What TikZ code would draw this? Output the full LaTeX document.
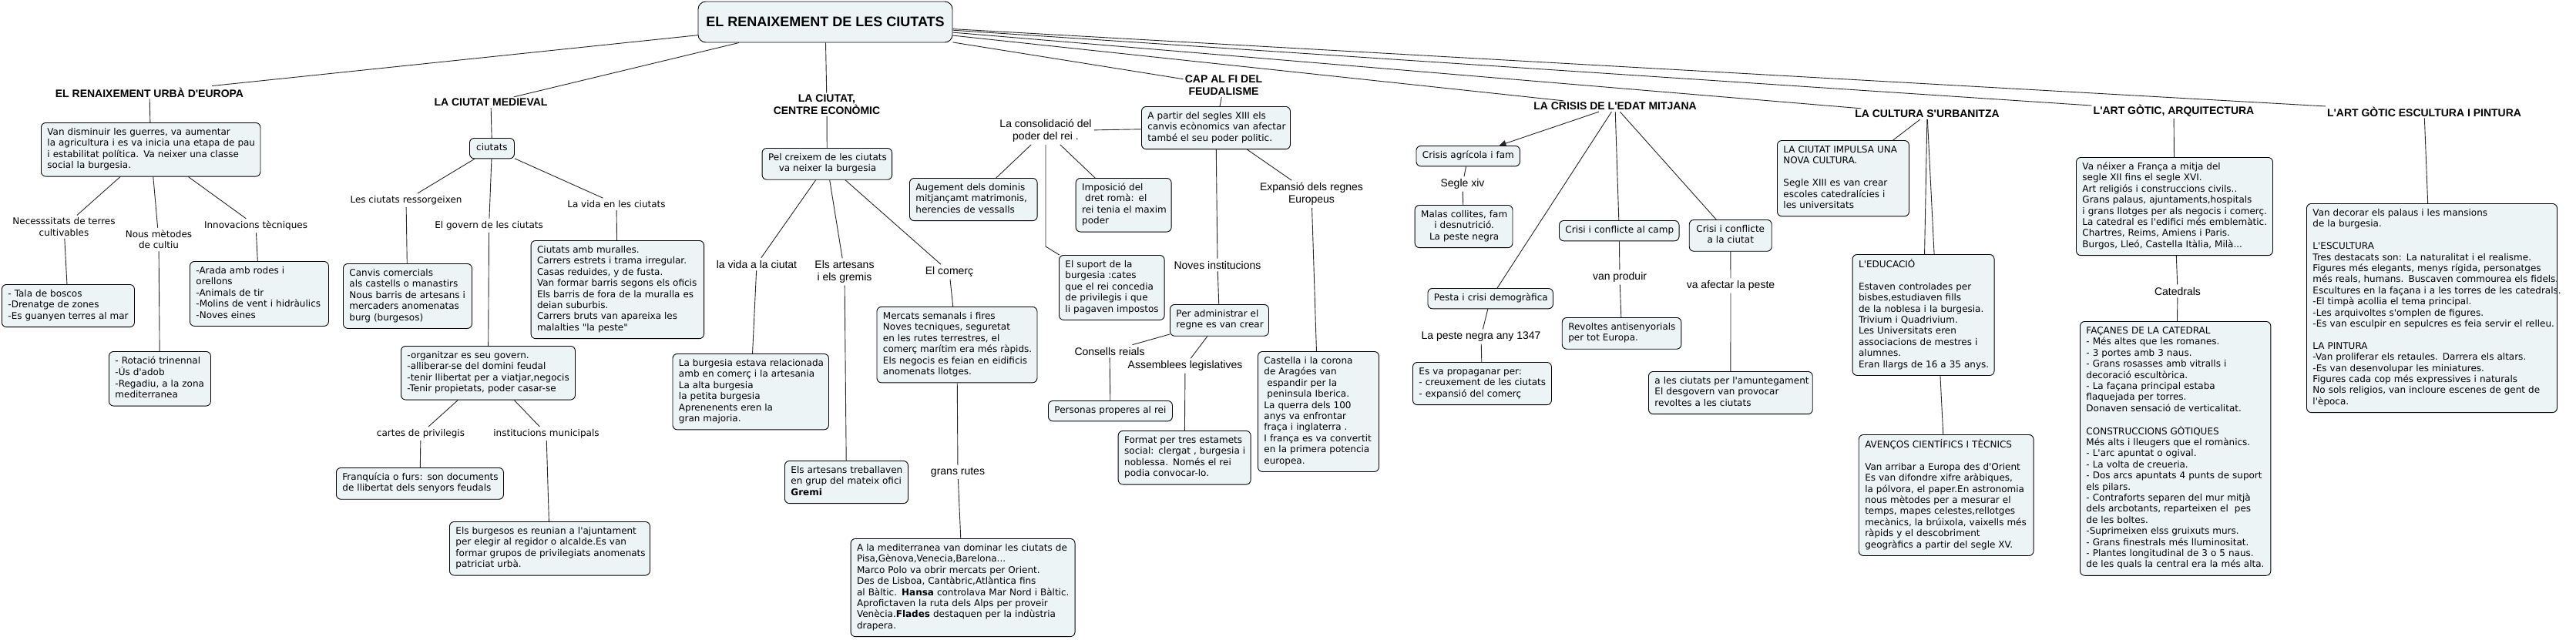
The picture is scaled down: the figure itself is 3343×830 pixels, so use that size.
\documentclass[tikz,border=0pt]{standalone}
\usepackage{fontspec}
\setmainfont{DejaVu Sans}[Ligatures=TeXOff]
\newfontfamily\arial{Liberation Sans}[Ligatures=TeXOff]
\usetikzlibrary{arrows.meta}
\definecolor{cfill}{RGB}{237,244,246}
\pgfdeclarelayer{back}
\pgfdeclarelayer{bg}
\pgfsetlayers{back,bg,main}
\newcommand\vf{\fontsize{12}{14.4}\selectfont}
\newcommand\af{\arial\fontsize{14}{16}\selectfont}
\newcommand\LL[1]{\begin{tabular}{@{}l@{}}#1\end{tabular}}
\newcommand\CC[1]{\begin{tabular}{@{}c@{}}#1\end{tabular}}
\tikzset{
 cbase/.style={draw=black, line width=0.9pt, rounded corners=6pt, fill=cfill, anchor=north west, inner xsep=8pt, inner ysep=6pt, font=\vf},
 lbox/.style={cbase, align=left},
 cbox/.style={cbase, align=center},
 bw/.style={text width={#1-16}},
 head/.style={font=\af\bfseries, align=center, inner sep=2pt},
 alab/.style={font=\af, align=center, inner sep=3pt},
 vlab/.style={font=\vf, align=center, inner sep=3pt},
 conn/.style={draw=black!85, line width=0.9pt},
 rootbox/.style={draw=black, line width=0.9pt, rounded corners=10pt, fill=cfill, minimum width=330pt, minimum height=53pt, font=\arial\bfseries\fontsize{18}{22}\selectfont},
}
\begin{document}
\begin{tikzpicture}[x=1pt,y=-1pt]
\begin{pgfonlayer}{back}
\fill[white] (0,0) rectangle (3343,830);
\end{pgfonlayer}
\useasboundingbox (0,0) rectangle (3343,830);

% root
\node[rootbox] (root) at (1071,28.5) {EL RENAIXEMENT DE LES CIUTATS};

% headings
\node[head] (urba) at (194,120) {EL RENAIXEMENT URBÀ D'EUROPA};
\node[head] (medieval) at (637,133) {LA CIUTAT MEDIEVAL};
\node[head] (centre) at (1073,136) {LA CIUTAT,\\CENTRE ECONÒMIC};
\node[head] (capfi) at (1588,111) {CAP AL FI DEL\\FEUDALISME};
\node[head] (crisis) at (2096,138) {LA CRISIS DE L'EDAT MITJANA};
\node[head] (cultura) at (2501,148) {LA CULTURA S'URBANITZA};
\node[head] (arq) at (2821,144) {L'ART GÒTIC, ARQUITECTURA};
\node[head] (escult) at (3146,145) {L'ART GÒTIC ESCULTURA I PINTURA};

% ---- El renaixement urba
\node[lbox,bw=284.5] (urbbox) at (53,159) {\LL{Van disminuir les guerres, va aumentar\\la agricultura i es va inicia una etapa de pau\\i estabilitat política. Va neixer una classe\\social la burgesia.}};
\node[vlab] (necess) at (83,294.5) {Necesssitats de terres\\cultivables};
\node[vlab] (nous) at (206,311) {Nous mètodes\\de cultiu};
\node[vlab] (innov) at (332,293) {Innovacions tècniques};
\node[lbox,bw=172] (tala) at (2,369) {\LL{- Tala de boscos\\-Drenatge de zones\\-Es guanyen terres al mar}};
\node[lbox,bw=132] (rotacio) at (141,456) {\LL{- Rotació trinennal\\-Ús d'adob\\-Regadiu, a la zona\\mediterranea}};
\node[lbox,bw=180] (arada) at (246,339) {\LL{-Arada amb rodes i\\orellons\\-Animals de tir\\-Molins de vent i hidràulics\\-Noves eines}};

% ---- La ciutat medieval
\node[cbox,bw=58] (ciutats) at (609,179) {\CC{ciutats}};
\node[vlab] (ressorg) at (527,260) {Les ciutats ressorgeixen};
\node[vlab] (govern) at (634.6,293) {El govern de les ciutats};
\node[vlab] (vidaen) at (800,265) {La vida en les ciutats};
\node[lbox,bw=167] (canvis) at (445,342) {\LL{Canvis comercials\\als castells o manastirs\\Nous barris de artesans i\\mercaders anomenatas\\burg (burgesos)}};
\node[lbox,bw=226] (organ) at (520,449) {\LL{-organitzar es seu govern.\\-alliberar-se del domini feudal\\-tenir llibertat per a viatjar,negocis\\-Tenir propietats, poder casar-se}};
\node[lbox,bw=224.5] (muralles) at (688.6,312) {\LL{Ciutats amb muralles.\\Carrers estrets i trama irregular.\\Casas reduides, y de fusta.\\Van formar barris segons els oficis\\Els barris de fora de la muralla es\\deian suburbis.\\Carrers bruts van apareixa les\\malalties "la peste"}};
\node[vlab] (cartes) at (546,563) {cartes de privilegis};
\node[vlab] (instit) at (709,563) {institucions municipals};
\node[lbox,bw=217] (franq) at (436,607) {\LL{Franquícia o furs: son documents\\de llibertat dels senyors feudals}};
\node[lbox,bw=260] (burgesos) at (583,677) {\LL{Els burgesos es reunian a l'ajuntament\\per elegir al regidor o alcalde.Es van\\formar grupos de privilegiats anomenats\\patriciat urbà.}};

% ---- La ciutat centre economic
\node[cbox,bw=168.5] (pel) at (988.6,192) {\CC{Pel creixem de les ciutats\\va neixer la burgesia}};
\node[alab] (vidaciutat) at (982,343) {la vida a la ciutat};
\node[alab] (artesans) at (1096,353) {Els artesans\\i els gremis};
\node[alab] (comerc) at (1232,353) {El comerç};
\node[lbox,bw=202.5] (burgesia) at (872.5,459) {\LL{La burgesia estava relacionada\\amb en comerç i la artesania\\La alta burgesia\\la petita burgesia\\Aprenenents eren la\\gran majoria.}};
\node[lbox,bw=160] (gremi) at (1018,598) {\LL{Els artesans treballaven\\en grup del mateix ofici\\\textbf{Gremi}}};
\node[lbox,bw=208] (mercats) at (1137.5,398) {\LL{Mercats semanals i fires\\Noves tecniques, seguretat\\en les rutes terrestres, el\\comerç marítim era més ràpids.\\Els negocis es feian en eidificis\\anomenats llotges.}};
\node[alab] (rutes) at (1243,613) {grans rutes};
\node[lbox,bw=291] (medit) at (1103.6,699) {\LL{A la mediterranea van dominar les ciutats de\\Pisa,Gènova,Venecia,Barelona...\\Marco Polo va obrir mercats per Orient.\\Des de Lisboa, Cantàbric,Atlàntica fins\\al Bàltic. \textbf{Hansa} controlava Mar Nord i Bàltic.\\Aprofictaven la ruta dels Alps per proveir\\Venècia.\textbf{Flades} destaquen per la indùstria\\drapera.}};

% ---- Cap al fi del feudalisme
\node[lbox,bw=193] (apartir) at (1481,138) {\LL{A partir del segles XIII els\\canvis ecònomics van afectar\\també el seu poder politic.}};
\node[alab] (consolid) at (1357,170) {La consolidació del\\poder del rei .};
\node[lbox,bw=165.7] (augement) at (1180,231) {\LL{Augement dels dominis\\mitjançamt matrimonis,\\herencies de vessalls}};
\node[lbox,bw=124] (imposicio) at (1395.7,231) {\LL{Imposició del\\\ dret romà: el\\rei tenia el maxim\\poder}};
\node[lbox,bw=136.7] (suport) at (1374,331) {\LL{El suport de la\\burgesia :cates\\que el rei concedia\\de privilegis i que\\li pagaven impostos}};
\coordinate (k1) at (1357,320);
\node[alab] (noves) at (1580,344) {Noves institucions};
\node[lbox,bw=128] (peradm) at (1518,395) {\LL{Per administrar el\\regne es van crear}};
\node[alab] (consells) at (1440,456) {Consells reials};
\node[alab] (assemb) at (1538,475) {Assemblees legislatives};
\node[lbox,bw=161] (personas) at (1360,520) {\LL{Personas properes al rei}};
\node[lbox,bw=172] (format) at (1450.7,559) {\LL{Format per tres estamets\\social: clergat , burgesia i\\noblessa. Només el rei\\podia convocar-lo.}};
\node[alab] (expansio) at (1702,252) {Expansió dels regnes\\Europeus};
\node[lbox,bw=157] (castella) at (1632,456) {\LL{Castella i la corona\\de Aragóes van\\\ espandir per la\\\ peninsula Iberica.\\La querra dels 100\\anys va enfrontar\\fraça i inglaterra .\\I frança es va convertit\\en la primera potencia\\europea.}};

% ---- La crisis
\node[cbox,bw=134.5] (agricola) at (1837.5,189) {\CC{Crisis agrícola i fam}};
\node[alab] (segle) at (1898,239) {Segle xiv};
\node[cbox,bw=126.8] (malas) at (1835.7,266) {\CC{Malas collites, fam\\i desnutrició.\\La peste negra}};
\node[cbox,bw=162.5] (pesta) at (1852.5,374) {\CC{Pesta i crisi demogràfica}};
\node[alab] (pestenegra) at (1922,437) {La peste negra any 1347};
\node[lbox,bw=180] (propag) at (1833,470) {\LL{Es va propaganar per:\\- creuxement de les ciutats\\- expansió del comerç}};
\node[cbox,bw=155.6] (camp) at (2023,286) {\CC{Crisi i conflicte al camp}};
\node[alab] (produir) at (2102,360) {van produir};
\node[lbox,bw=154.6] (revoltes) at (2026.8,412) {\LL{Revoltes antisenyorials\\per tot Europa.}};
\node[cbox,bw=107] (crciutat) at (2191.8,285) {\CC{Crisi i conflicte\\a la ciutat}};
\node[alab] (afectar) at (2246,371) {va afectar la peste};
\node[lbox,bw=212.8] (amunteg) at (2139,482) {\LL{a les ciutats per l'amuntegament\\El desgovern van provocar\\revoltes a les ciutats}};

% ---- La cultura s'urbanitza
\node[lbox,bw=171] (impulsa) at (2306,182) {\LL{LA CIUTAT IMPULSA UNA\\NOVA CULTURA.\\ \\Segle XIII es van crear\\escoles catedralícies i\\les universitats}};
\node[lbox,bw=184] (educ) at (2403.6,330) {\LL{L'EDUCACIÓ\\ \\Estaven controlades per\\bisbes,estudiaven fills\\de la noblesa i la burgesia.\\Trivium i Quadrivium.\\Les Universitats eren\\associacions de mestres i\\alumnes.\\Eran llargs de 16 a 35 anys.}};
\node[lbox,bw=226.8] (avencos) at (2411.8,564) {\LL{AVENÇOS CIENTÍFICS I TÈCNICS\\ \\Van arribar a Europa des d'Orient\\Es van difondre xifre aràbiques,\\la pólvora, el paper.En astronomia\\nous mètodes per a mesurar el\\temps, mapes celestes,rellotges\\mecànics, la brúixola, vaixells més\\ràpids y el descobriment\\geogràfics a partir del segle XV.}};

% ---- Art gotic arquitectura
\node[lbox,bw=255] (vaneixer) at (2694,204) {\LL{Va néixer a França a mitja del\\segle XII fins el segle XVI.\\Art religiós i construccions civils..\\Grans palaus, ajuntaments,hospitals\\i grans llotges per als negocis i comerç.\\La catedral es l'edifici més emblemàtic.\\Chartres, Reims, Amiens i Paris.\\Burgos, Lleó, Castella Itàlia, Milà...}};
\node[alab] (catedrals) at (2826,378) {Catedrals};
\node[lbox,bw=247.4] (facanes) at (2699,417) {\LL{FAÇANES DE LA CATEDRAL\\- Més altes que les romanes.\\- 3 portes amb 3 naus.\\- Grans rosasses amb vitralls i\\decoració escultòrica.\\- La façana principal estaba\\flaquejada per torres.\\Donaven sensació de verticalitat.\\ \\CONSTRUCCIONS GÒTIQUES\\Més alts i lleugers que el romànics.\\- L'arc apuntat o ogival.\\- La volta de creueria.\\- Dos arcs apuntats 4 punts de suport\\els pilars.\\- Contraforts separen del mur mitjà\\dels arcbotants, reparteixen el\ \ pes\\de les boltes.\\-Suprimeixen elss gruixuts murs.\\- Grans finestrals més lluminositat.\\- Plantes longitudinal de 3 o 5 naus.\\de les quals la central era la més alta.}};

% ---- Art gotic escultura i pintura
\node[lbox,bw=325] (decorar) at (2993,264) {\LL{Van decorar els palaus i les mansions\\de la burgesia.\\ \\L'ESCULTURA\\Tres destacats son: La naturalitat i el realisme.\\Figures més elegants, menys rígida, personatges\\més reals, humans. Buscaven commourea els fidels.\\Escultures en la façana i a les torres de les catedrals.\\-El timpà acollia el tema principal.\\-Les arquivoltes s'omplen de figures.\\-Es van esculpir en sepulcres es feia servir el relleu.\\ \\LA PINTURA\\-Van proliferar els retaules. Darrera els altars.\\-Es van desenvolupar les miniatures.\\Figures cada cop més expressives i naturals\\No sols religios, van incloure escenes de gent de\\l'època.}};

% ---- connectors
\begin{pgfonlayer}{bg}
\draw[conn] (root) -- (urba);
\draw[conn] (root) -- (medieval);
\draw[conn] (root) -- (centre);
\draw[conn] (root) -- (capfi);
\draw[conn] (root) -- (crisis);
\draw[conn] (root) -- (cultura);
\draw[conn] (root) -- (arq);
\draw[conn] (root) -- (escult);
\draw[conn] (urba) -- (urbbox);
\draw[conn] (urbbox) -- (necess);
\draw[conn] (urbbox) -- (nous);
\draw[conn] (urbbox) -- (innov);
\draw[conn] (necess) -- (tala);
\draw[conn] (nous) -- (rotacio);
\draw[conn] (innov) -- (arada);
\draw[conn] (medieval) -- (ciutats);
\draw[conn] (ciutats) -- (ressorg);
\draw[conn] (ciutats) -- (govern);
\draw[conn] (ciutats) -- (vidaen);
\draw[conn] (ressorg) -- (canvis);
\draw[conn] (govern) -- (organ);
\draw[conn] (vidaen) -- (muralles);
\draw[conn] (organ) -- (cartes);
\draw[conn] (organ) -- (instit);
\draw[conn] (cartes) -- (franq);
\draw[conn] (instit) -- (burgesos);
\draw[conn] (centre) -- (pel);
\draw[conn] (pel) -- (vidaciutat);
\draw[conn] (pel) -- (artesans);
\draw[conn] (pel) -- (comerc);
\draw[conn] (vidaciutat) -- (burgesia);
\draw[conn] (artesans) -- (gremi);
\draw[conn] (comerc) -- (mercats);
\draw[conn] (mercats) -- (rutes);
\draw[conn] (rutes) -- (medit);
\draw[conn] (capfi) -- (apartir);
\draw[conn] (apartir) -- (consolid);
\draw[conn] (consolid) -- (augement);
\draw[conn] (consolid) -- (imposicio);
\draw[conn] (consolid) -- (k1) -- (suport);
\draw[conn] (apartir) -- (noves);
\draw[conn] (noves) -- (peradm);
\draw[conn] (peradm) -- (consells);
\draw[conn] (peradm) -- (assemb);
\draw[conn] (consells) -- (personas);
\draw[conn] (assemb) -- (format);
\draw[conn] (apartir) -- (expansio);
\draw[conn] (expansio) -- (castella);
\draw[conn,-{Triangle[length=9pt,width=8pt]}] (crisis) -- (agricola);
\draw[conn] (agricola) -- (segle);
\draw[conn] (segle) -- (malas);
\draw[conn] (crisis) -- (pesta);
\draw[conn] (pesta) -- (pestenegra);
\draw[conn] (pestenegra) -- (propag);
\draw[conn] (crisis) -- (camp);
\draw[conn] (camp) -- (produir);
\draw[conn] (produir) -- (revoltes);
\draw[conn] (crisis) -- (crciutat);
\draw[conn] (crciutat) -- (afectar);
\draw[conn] (afectar) -- (amunteg);
\draw[conn] (cultura) -- (impulsa);
\draw[conn] (cultura) -- (educ);
\draw[conn] (cultura) -- (avencos);
\draw[conn] (arq) -- (vaneixer);
\draw[conn] (vaneixer) -- (catedrals);
\draw[conn] (catedrals) -- (facanes);
\draw[conn] (escult) -- (decorar);
\end{pgfonlayer}
\end{tikzpicture}
\end{document}
